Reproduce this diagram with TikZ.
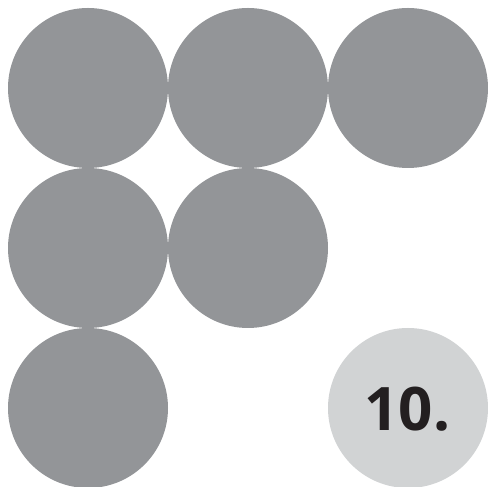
\documentclass[tikz,border=0pt]{standalone}
\usepackage{fontspec}
\newfontfamily\numfont{Open Sans}
\definecolor{darkdot}{HTML}{939598}
\definecolor{lightdot}{HTML}{D1D3D4}
\definecolor{numink}{HTML}{231F20}
\begin{document}
\begin{tikzpicture}[x=1pt,y=1pt,
  dot/.style={circle,fill=darkdot,draw=none,minimum size=160pt,inner sep=0pt},
  lightdotstyle/.style={circle,fill=lightdot,draw=none,minimum size=160pt,inner sep=0pt}]
\useasboundingbox (0,0) rectangle (488,487);
\node[dot] (d1) at (88,399) {};
\node[dot] (d2) at (248,399) {};
\node[dot] (d3) at (408,399) {};
\node[dot] (d4) at (88,239) {};
\node[dot] (d5) at (248,239) {};
\node[dot] (d6) at (88,79) {};
\node[lightdotstyle] (d10) at (408,79) {};
\node[text=numink,font=\numfont\bfseries\fontsize{60}{60}\selectfont,inner sep=0pt,anchor=base] (lbl) at (407.5,56) {10.};
\end{tikzpicture}
\end{document}
